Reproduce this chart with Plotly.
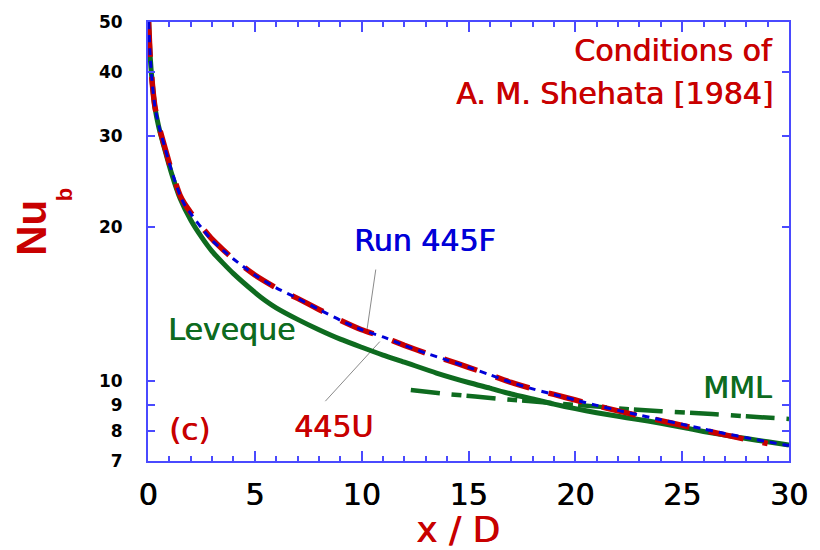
import numpy as np
import plotly.graph_objects as go

# ---- data ----
lev_x = [0.03, 0.1, 0.2, 0.32, 0.5, 0.79, 1.1, 1.5, 2.0, 2.5, 3.0, 3.5, 4.0, 5.0, 5.5, 6.0, 7.0, 8.0, 9.0, 10.0,
         11.0, 12.0, 13.5, 15.0, 16.0, 17.0, 18.2, 19.0, 20.0, 21.0, 22.0, 22.8, 24.0, 25.0, 26.0, 27.0, 28.0, 29.0, 30.0]
lev_y = [50.0, 43.0, 38.0, 34.2, 31.3, 28.2, 25.4, 22.7, 20.6, 19.1, 17.9, 17.0, 16.2, 14.9, 14.35, 13.9, 13.2, 12.6, 12.08, 11.65,
         11.25, 10.9, 10.38, 9.95, 9.7, 9.45, 9.2, 9.03, 8.85, 8.69, 8.55, 8.45, 8.29, 8.14, 7.99, 7.86, 7.74, 7.63, 7.52]

run_x = [0.03, 0.1, 0.2, 0.32, 0.5, 0.8, 1.1, 1.5, 1.7, 2.0, 2.5, 3.0, 3.5, 4.0, 5.0, 6.0, 7.0, 8.0, 9.0, 10.0, 11.0, 12.0,
         13.0, 14.0, 15.0, 16.0, 17.0, 18.0, 19.0, 20.0, 21.0, 22.0, 23.0, 24.0, 25.0, 26.0, 27.0, 28.0, 29.0, 30.0]
run_y = [50.0, 43.0, 38.0, 34.3, 31.5, 28.4, 25.7, 23.0, 22.1, 21.2, 19.9, 18.8, 18.0, 17.3, 16.1, 15.2, 14.5, 13.8, 13.15, 12.6, 12.2, 11.75,
         11.35, 11.0, 10.65, 10.3, 9.95, 9.67, 9.43, 9.2, 8.98, 8.78, 8.6, 8.42, 8.25, 8.08, 7.92, 7.77, 7.63, 7.5]

u_x = [0.03, 0.1, 0.2, 0.32, 0.5, 0.8, 1.1, 1.5, 1.7, 2.0, 2.5, 3.0, 3.5, 4.0, 5.0, 6.0, 7.0, 8.0, 9.0, 10.0, 11.0, 12.0,
       13.0, 14.0, 15.0, 16.0, 17.0, 18.0, 19.0, 20.0, 21.0, 22.0, 23.0, 24.0, 25.0, 26.0, 27.0, 28.0, 29.0]
u_y = [50.0, 43.0, 38.0, 34.3, 31.5, 28.4, 25.7, 23.0, 22.2, 21.3, 20.0, 18.9, 18.05, 17.3, 16.1, 15.2, 14.5, 13.8, 13.15, 12.6, 12.2, 11.75,
       11.35, 11.0, 10.65, 10.3, 9.95, 9.67, 9.43, 9.2, 8.97, 8.76, 8.57, 8.39, 8.21, 8.04, 7.87, 7.71, 7.57]

mml_x = [12.3, 14.0, 16.6, 19.0, 21.3, 22.5, 24.0, 26.4, 28.0, 30.0]
mml_y = [9.62, 9.45, 9.24, 9.07, 8.91, 8.83, 8.75, 8.64, 8.55, 8.45]

# leader lines (label -> curve)
lead_run_x = [10.66, 10.25]
lead_run_y = [16.5, 12.6]
lead_u_x = [8.3, 10.85]
lead_u_y = [9.15, 11.95]

x_ticks = [0, 5, 10, 15, 20, 25, 30]
y_ticks = [7, 8, 9, 10, 20, 30, 40, 50]

RED = "#c80000"
GREEN = "#0e6b1f"
BLUE = "#0000d8"
AXBLUE = "#4a4aff"
FONT = "DejaVu Sans"

fig = go.Figure()
fig.add_trace(go.Scatter(x=lead_run_x, y=lead_run_y, mode="lines",
                         line=dict(color="#8a8a8a", width=1), hoverinfo="skip"))
fig.add_trace(go.Scatter(x=lead_u_x, y=lead_u_y, mode="lines",
                         line=dict(color="#8a8a8a", width=1), hoverinfo="skip"))
fig.add_trace(go.Scatter(x=lev_x, y=lev_y, mode="lines", name="Leveque",
                         line=dict(color=GREEN, width=5, shape="spline", smoothing=0.6)))
fig.add_trace(go.Scatter(x=mml_x, y=mml_y, mode="lines", name="MML",
                         line=dict(color=GREEN, width=4.5, dash="29px,12px,10px,5px", shape="spline", smoothing=0.6)))
fig.add_trace(go.Scatter(x=u_x, y=u_y, mode="lines", name="445U",
                         line=dict(color=RED, width=5.5, dash="35px,20px", shape="spline", smoothing=0.6)))
fig.add_trace(go.Scatter(x=run_x, y=run_y, mode="lines", name="Run 445F",
                         line=dict(color=BLUE, width=3, dash="7px,6px", shape="spline", smoothing=0.6)))

L, R, T, B = 148, 25, 13, 89
W, H = 820, 550
PW, PH = W - L - R, H - T - B


def px(xp):
    return (xp - L) / PW


def py(yp):
    return (H - B - yp) / PH


def ann(text, x, y, color, size, xanchor="left", yanchor="middle", angle=0, family=FONT, weight="normal", shadow=True):
    f = dict(family=family, size=size, color=color, weight=weight)
    if shadow:
        f["shadow"] = "0.7px 0 0 " + color
    fig.add_annotation(text=text, xref="paper", yref="paper", x=px(x), y=py(y),
                       xanchor=xanchor, yanchor=yanchor, showarrow=False, textangle=angle,
                       font=f)


ann("Conditions of", 781, 42, RED, 30, xanchor="right")
ann("A. M. Shehata [1984]", 781, 86, RED, 30, xanchor="right")
ann("Run 445F", 354, 236, BLUE, 30)
ann("Leveque", 166, 327, GREEN, 30)
ann("MML", 706, 386, GREEN, 30)
ann("(c)", 167, 428, RED, 31)
ann("445U", 293, 426, RED, 30)
ann("x / D", 461, 531, RED, 36, xanchor="center")
ann("Nu", 31, 223, RED, 42, xanchor="center", angle=-90, family="Liberation Sans", weight="bold", shadow=False)
ann("b", 64, 189, RED, 22, xanchor="center", angle=-90, family="Liberation Sans", weight="bold", shadow=False)

fig.update_xaxes(range=[0, 30], tickvals=x_ticks, ticktext=[str(v) for v in x_ticks],
                 ticks="inside", ticklen=10, tickwidth=2, tickcolor=AXBLUE,
                 showline=True, linecolor=AXBLUE, linewidth=2, mirror="ticks",
                 showgrid=False, zeroline=False,
                 minor=dict(dtick=1, ticks="inside", ticklen=5, tickwidth=2, tickcolor=AXBLUE, showgrid=False),
                 tickfont=dict(family=FONT, size=30, color="black", shadow="0.7px 0 0 black"), ticklabelstandoff=6)
fig.update_yaxes(type="log", range=[np.log10(7), np.log10(50)], tickvals=y_ticks,
                 ticktext=[str(v) for v in y_ticks],
                 ticks="inside", ticklen=7, tickwidth=2, tickcolor=AXBLUE,
                 showline=True, linecolor=AXBLUE, linewidth=2, mirror="ticks",
                 showgrid=False, zeroline=False,
                 tickfont=dict(family=FONT, size=17, color="black", weight="bold"), ticklabelstandoff=20)

fig.update_layout(width=W, height=H, margin=dict(l=L, r=R, t=T, b=B),
                  paper_bgcolor="white", plot_bgcolor="white", showlegend=False)

fig.write_html("out.html")
